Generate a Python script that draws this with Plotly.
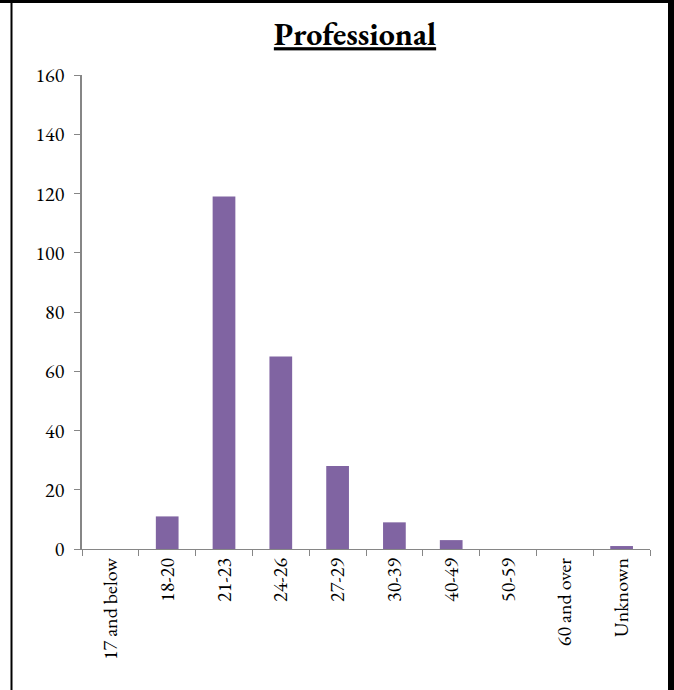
import plotly.graph_objects as go

categories = ["17 and below", "18-20", "21-23", "24-26", "27-29", "30-39",
              "40-49", "50-59", "60 and over", "Unknown"]
values = [0, 11, 119, 65, 28, 9, 3, 0, 0, 1]
y_ticks = [0, 20, 40, 60, 80, 100, 120, 140, 160]

W, H = 674, 690
ML, MR, MT, MB = 82, 24, 75, 141
pw, ph = W - ML - MR, H - MT - MB

def px_x(p):
    return (p - ML) / pw

def px_y(p):
    return (H - MB - p) / ph

font_fam = "Garamond, 'EB Garamond', 'Liberation Serif', 'DejaVu Serif', serif"

fig = go.Figure(go.Bar(
    x=categories, y=values,
    marker=dict(color="#8064A2", line=dict(width=0)),
    width=0.4,
))

fig.update_layout(
    width=W, height=H,
    margin=dict(l=ML, r=MR, t=MT, b=MB),
    paper_bgcolor="white", plot_bgcolor="white",
    font=dict(family=font_fam, size=20, color="black"),
    showlegend=False,
    title=dict(text="<b><u>Professional</u></b>", x=355 / W, xanchor="center",
               y=1 - 34 / H, yanchor="middle",
               font=dict(family=font_fam, size=32, color="black")),
    xaxis=dict(
        type="category", tickangle=-90, tickson="boundaries",
        ticks="outside", ticklen=6, tickcolor="#868686",
        showline=True, linecolor="#868686", linewidth=1,
        showgrid=False, zeroline=False,
        tickfont=dict(size=20, family=font_fam),
    ),
    yaxis=dict(
        range=[0, 160], tickvals=y_ticks,
        ticks="outside", ticklen=6, tickcolor="#868686",
        showline=True, linecolor="#868686", linewidth=1.5,
        showgrid=False, zeroline=False, ticklabelstandoff=6,
        tickfont=dict(size=20, family=font_fam),
    ),
    shapes=[
        dict(type="line", xref="paper", yref="paper",
             x0=px_x(0), x1=px_x(W), y0=px_y(1.5), y1=px_y(1.5),
             line=dict(color="black", width=3)),
        dict(type="line", xref="paper", yref="paper",
             x0=px_x(11.5), x1=px_x(11.5), y0=px_y(0), y1=px_y(H),
             line=dict(color="black", width=2)),
        dict(type="line", xref="paper", yref="paper",
             x0=px_x(671), x1=px_x(671), y0=px_y(0), y1=px_y(H),
             line=dict(color="black", width=6)),
    ],
)

fig.write_html("out.html", config={"displayModeBar": False},
               post_script="document.body.style.margin='0';document.body.style.padding='0';")
